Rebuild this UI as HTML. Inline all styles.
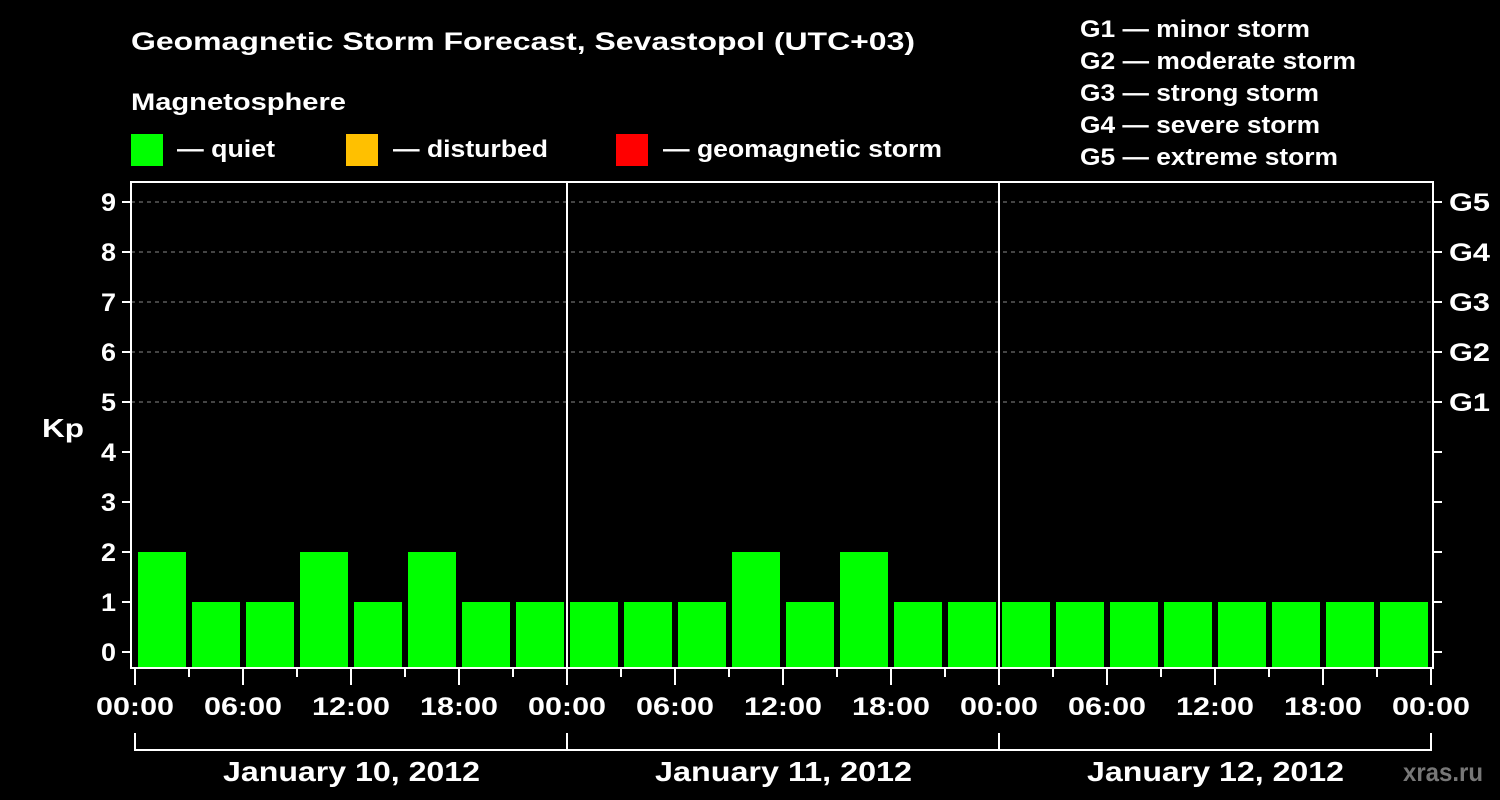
<!DOCTYPE html>
<html><head><meta charset="utf-8"><style>
html,body{margin:0;padding:0;background:#000;width:1500px;height:800px;overflow:hidden}
svg{display:block;font-family:"Liberation Sans",Arial,sans-serif;font-weight:bold}
svg text{font-family:"Liberation Sans",Arial,sans-serif;font-weight:bold}
</style></head><body>
<svg id="c" width="1500" height="800" viewBox="0 0 1500 800">
<text x="131" y="50" fill="#fff" font-size="25" textLength="784" lengthAdjust="spacingAndGlyphs">Geomagnetic Storm Forecast, Sevastopol (UTC+03)</text>
<text x="131" y="110" fill="#fff" font-size="24" textLength="215" lengthAdjust="spacingAndGlyphs">Magnetosphere</text>
<g>
<rect x="131" y="134" width="32" height="32" fill="#00ff00"/>
<text x="177" y="157" fill="#fff" font-size="24" textLength="98" lengthAdjust="spacingAndGlyphs">— quiet</text>
<rect x="346" y="134" width="32" height="32" fill="#ffc000"/>
<text x="393" y="157" fill="#fff" font-size="24" textLength="155" lengthAdjust="spacingAndGlyphs">— disturbed</text>
<rect x="616" y="134" width="32" height="32" fill="#ff0000"/>
<text x="663" y="157" fill="#fff" font-size="24" textLength="279" lengthAdjust="spacingAndGlyphs">— geomagnetic storm</text>
</g>
<g fill="#fff" font-size="24">
<text x="1080" y="37" textLength="230" lengthAdjust="spacingAndGlyphs">G1 — minor storm</text>
<text x="1080" y="69" textLength="276" lengthAdjust="spacingAndGlyphs">G2 — moderate storm</text>
<text x="1080" y="101" textLength="239" lengthAdjust="spacingAndGlyphs">G3 — strong storm</text>
<text x="1080" y="133" textLength="240" lengthAdjust="spacingAndGlyphs">G4 — severe storm</text>
<text x="1080" y="165" textLength="258" lengthAdjust="spacingAndGlyphs">G5 — extreme storm</text>
</g>
<text x="42" y="437" fill="#fff" font-size="26" textLength="42" lengthAdjust="spacingAndGlyphs">Kp</text>
<g id="grid"></g><g id="bars"></g><g id="axes"></g>
<text x="1403" y="781" fill="#777" font-size="26" textLength="80" lengthAdjust="spacingAndGlyphs">xras.ru</text>
</svg>
<script>
const kpValues=[2,1,1,2,1,2,1,1, 1,1,1,2,1,2,1,1, 1,1,1,1,1,1,1,1];
const dayLabels=["January 10, 2012","January 11, 2012","January 12, 2012"];
const yTicks=[0,1,2,3,4,5,6,7,8,9];
const gLabels=["G1","G2","G3","G4","G5"];
const xTickLabels=["00:00","06:00","12:00","18:00"];
(function(){
const NS="http://www.w3.org/2000/svg";
const x0=135,slot=54,pleft=131,pright=1433,ptop=182,pbottom=668;
const ys=v=>652-v*50;
const xs=i=>x0+i*slot;
function mk(p,tag,a){const e=document.createElementNS(NS,tag);for(const k in a)e.setAttribute(k,a[k]);p.appendChild(e);return e;}
const grid=document.getElementById('grid'),bars=document.getElementById('bars'),axes=document.getElementById('axes');
for(let v=5;v<=9;v++){const l=mk(grid,'line',{x1:pleft,x2:pright,y1:ys(v),y2:ys(v),stroke:'#888','stroke-dasharray':'4,4','stroke-width':1});

}
kpValues.forEach((v,i)=>{const c=v>=5?'#ff0000':(v>=4?'#ffc000':'#00ff00');
const r=mk(bars,'rect',{x:xs(i)+3,y:ys(v),width:48,height:pbottom-ys(v),fill:c});

});
const box=mk(axes,'rect',{x:pleft,y:ptop,width:pright-pleft,height:pbottom-ptop,fill:'none',stroke:'#fff','stroke-width':2});


for(let d=1;d<dayLabels.length;d++){const l=mk(axes,'line',{x1:xs(d*8),x2:xs(d*8),y1:ptop,y2:pbottom,stroke:'#fff','stroke-width':2});

}
yTicks.forEach(v=>{mk(axes,'line',{x1:122,x2:pleft,y1:ys(v),y2:ys(v),stroke:'#fff','stroke-width':2});
mk(axes,'line',{x1:pright,x2:1442,y1:ys(v),y2:ys(v),stroke:'#fff','stroke-width':2});
const t=mk(axes,'text',{x:116,y:ys(v)+9,fill:'#fff','font-size':25,'text-anchor':'end',textLength:15,lengthAdjust:'spacingAndGlyphs'});t.textContent=v;

});
gLabels.forEach((g,i)=>{const t=mk(axes,'text',{x:1449,y:ys(5+i)+9,fill:'#fff','font-size':25,textLength:41,lengthAdjust:'spacingAndGlyphs'});t.textContent=g;

});
for(let i=0;i<=kpValues.length;i++){const major=i%2==0;
mk(axes,'line',{x1:xs(i),x2:xs(i),y1:669,y2:major?685:677,stroke:'#fff','stroke-width':2});
if(major){const t=mk(axes,'text',{x:xs(i)-39,y:715,fill:'#fff','font-size':25,textLength:78,lengthAdjust:'spacingAndGlyphs'});
t.textContent=xTickLabels[(i/2)%4];

}}
const n=kpValues.length;
mk(axes,'polyline',{points:`${xs(0)},733 ${xs(0)},750 ${xs(n)},750 ${xs(n)},733`,fill:'none',stroke:'#fff','stroke-width':2});
for(let d=1;d<dayLabels.length;d++)mk(axes,'line',{x1:xs(d*8),x2:xs(d*8),y1:733,y2:750,stroke:'#fff','stroke-width':2});
dayLabels.forEach((s,d)=>{const t=mk(axes,'text',{x:(xs(d*8)+xs(d*8+8))/2-128,y:781,fill:'#fff','font-size':28,textLength:257,lengthAdjust:'spacingAndGlyphs'});t.textContent=s;

});
})();
</script>
</body></html>
